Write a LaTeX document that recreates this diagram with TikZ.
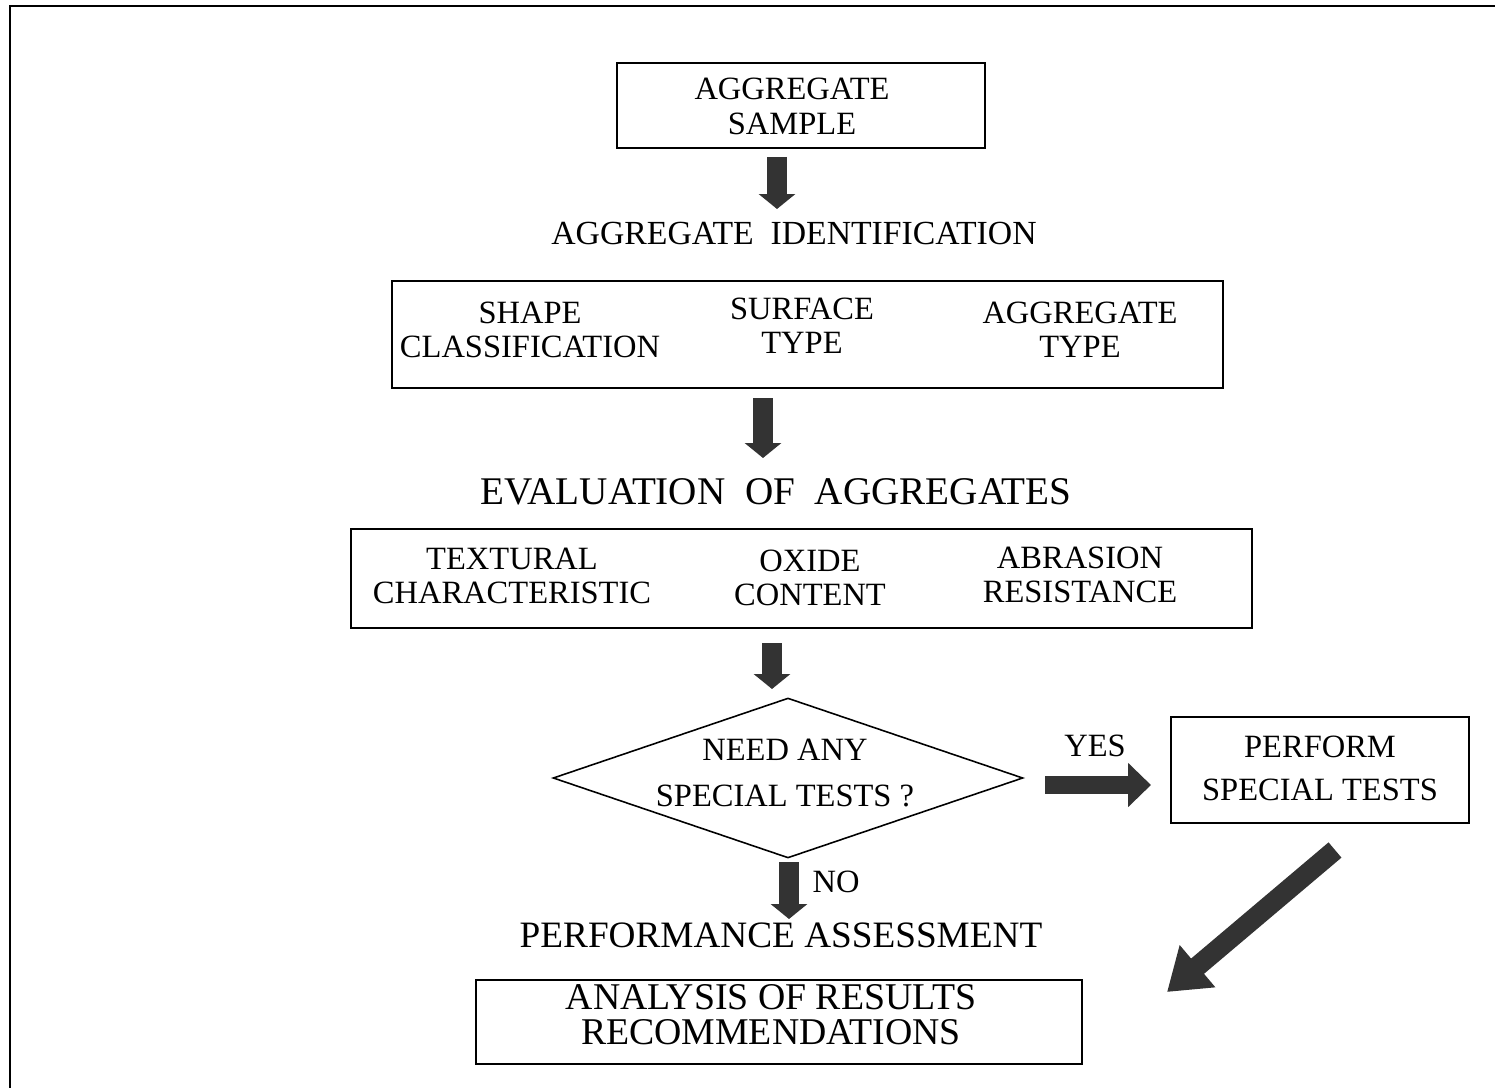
\documentclass[tikz,border=0pt]{standalone}
\usepackage{fontspec}
\setmainfont{Liberation Serif}
\usetikzlibrary{arrows.meta,shapes.geometric}
\tikzset{
  box/.style={draw,line width=1.1pt,inner sep=0pt,rectangle},
  lbl/.style={align=center,inner sep=0pt,font=\fontsize{18.5}{19.5}\selectfont},
  biglbl/.style={inner sep=0pt,font=\fontsize{22.3}{26}\selectfont},
  midlbl/.style={align=center,inner sep=0pt,font=\fontsize{21.5}{19.8}\selectfont},
  fatarrow/.style={draw=black!80,line width=0.4cm,-{Triangle[length=0.30cm,width=0.72cm]}},
}
\begin{document}
\begin{tikzpicture}[x=0.02cm,y=-0.02cm]
\useasboundingbox (0,0) rectangle (1495,1088);
% frame
\coordinate (fbl) at (10,1088);
\coordinate (ftl) at (10,6);
\coordinate (ftr) at (1495,6);
\draw[line width=1.4pt] (fbl) -- (ftl) -- (ftr);

% boxes
\node[box,minimum width=7.36cm,minimum height=1.70cm] (b1) at (801,105.5) {};
\node[box,minimum width=16.62cm,minimum height=2.14cm] (b2) at (807.5,334.5) {};
\node[box,minimum width=18.02cm,minimum height=1.98cm] (b3) at (801.5,578.5) {};
\node[box,minimum width=5.96cm,minimum height=2.12cm] (b4) at (1320,770) {};
\node[box,minimum width=12.12cm,minimum height=1.68cm] (b5) at (779,1022) {};
\node[draw,line width=0.9pt,diamond,minimum width=9.4cm,minimum height=3.2cm,inner sep=0pt] (dia) at (788,778) {};

% texts
\node[lbl] (t1) at (792,106.5) {AGGREGATE\\SAMPLE};
\node[lbl,font=\fontsize{19.2}{20}\selectfont] (tid) at (794,233) {AGGREGATE\ \ IDENTIFICATION};
\node[lbl] (t2a) at (530,330) {SHAPE\\CLASSIFICATION};
\node[lbl] (t2b) at (802,326) {SURFACE\\TYPE};
\node[lbl] (t2c) at (1080,330) {AGGREGATE\\TYPE};
\node[biglbl] (tev) at (776,492) {EVALUATION\ \ OF\ \ AGGREGATES};
\node[lbl] (t3a) at (512,576) {TEXTURAL\\CHARACTERISTIC};
\node[lbl] (t3b) at (810,578) {OXIDE\\CONTENT};
\node[lbl] (t3c) at (1080,575) {ABRASION\\RESISTANCE};
\node[lbl,font=\fontsize{18.5}{26.6}\selectfont] (tdia) at (785,773) {NEED ANY\\SPECIAL TESTS ?};
\node[lbl] (tyes) at (1095,746) {YES};
\node[lbl,font=\fontsize{18.5}{24.4}\selectfont] (t4) at (1320,768) {PERFORM\\SPECIAL TESTS};
\node[lbl] (tno) at (836,882) {NO};
\node[midlbl,font=\fontsize{21.2}{19.8}\selectfont] (tpa) at (781,935) {PERFORMANCE ASSESSMENT};
\node[midlbl] (t5) at (771,1015) {ANALYSIS OF RESULTS\\RECOMMENDATIONS};

% arrow end points
\coordinate (a1s) at (777,157);
\coordinate (a1e) at (777,209);
\coordinate (a2s) at (763,398);
\coordinate (a2e) at (763,458);
\coordinate (a3s) at (772,643);
\coordinate (a3e) at (772,689);
\coordinate (ays) at (1045,785);
\coordinate (aye) at (1151,785);
\coordinate (ans) at (789,862);
\coordinate (ane) at (789,919);
\coordinate (ads) at (1335,850);
\coordinate (ade) at (1167,992);

\draw[fatarrow] (a1s) -- (a1e);
\draw[fatarrow] (a2s) -- (a2e);
\draw[fatarrow] (a3s) -- (a3e);
\draw[fatarrow,line width=0.36cm,-{Triangle[length=0.46cm,width=0.86cm]}] (ays) -- (aye);
\draw[fatarrow] (ans) -- (ane);
\draw[fatarrow,-{Triangle[length=0.8cm,width=1.05cm]}] (ads) -- (ade);
\end{tikzpicture}
\end{document}
